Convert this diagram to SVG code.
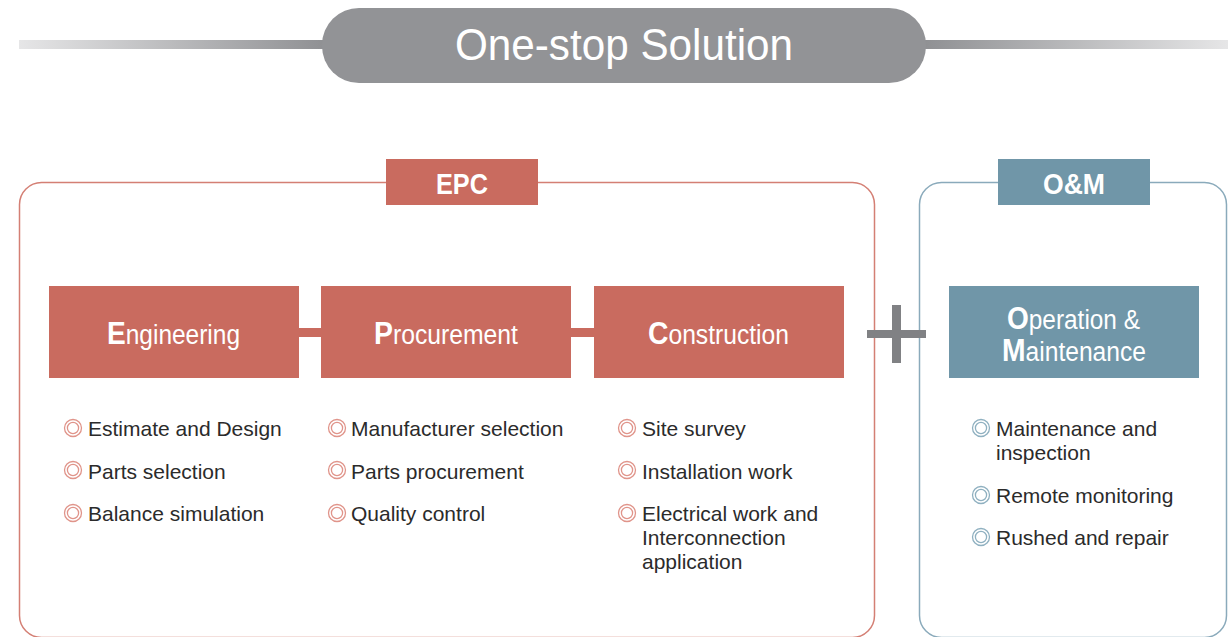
<svg xmlns="http://www.w3.org/2000/svg" width="1228" height="637" viewBox="0 0 1228 637">
<defs>
<linearGradient id="gl" x1="0" y1="0" x2="1" y2="0"><stop offset="0" stop-color="#e6e6e7"/><stop offset="1" stop-color="#8e8f92"/></linearGradient>
<linearGradient id="gr" x1="0" y1="0" x2="1" y2="0"><stop offset="0" stop-color="#8e8f92"/><stop offset="1" stop-color="#e6e6e7"/></linearGradient>
<g id="br"><circle r="8.5" fill="none" stroke="#e0948a" stroke-width="1.3"/><circle r="5.6" fill="none" stroke="#e0948a" stroke-width="1.3"/></g>
<g id="bb"><circle r="8.5" fill="none" stroke="#8fb0c0" stroke-width="1.3"/><circle r="5.6" fill="none" stroke="#8fb0c0" stroke-width="1.3"/></g>
</defs>
<style>
.hd{font-family:"Liberation Sans",Arial,sans-serif;fill:#fff;}
.bx{font-family:"Liberation Sans",Arial,sans-serif;fill:#fff;font-size:27px;}
.big{font-weight:bold;font-size:31px;}
.li{font-family:"Liberation Sans",Arial,sans-serif;fill:#2b2b2b;font-size:21px;}
.red{fill:#c96b5f;}
.blue{fill:#7096a8;}
</style>
<rect width="1228" height="637" fill="#fff"/>
<g id="title">
<rect x="19" y="40" width="310" height="9" fill="url(#gl)"/>
<rect x="920" y="40" width="308" height="9" fill="url(#gr)"/>
<rect x="322" y="8" width="604" height="75" rx="37" fill="#929396"/>
<text class="hd" x="624" y="60" font-size="44" text-anchor="middle" textLength="338" lengthAdjust="spacingAndGlyphs">One-stop Solution</text>
</g>
<g id="epc">
<rect x="19.5" y="182.5" width="855" height="455" rx="22" fill="none" stroke="#d47f74" stroke-width="1.5"/>
<rect class="red" x="386" y="159" width="152" height="46"/>
<text class="hd" x="462" y="194" font-size="29" font-weight="bold" text-anchor="middle" textLength="52" lengthAdjust="spacingAndGlyphs">EPC</text>
</g>
<g id="om">
<rect x="919.5" y="182.5" width="307" height="455" rx="22" fill="none" stroke="#8aaabb" stroke-width="1.5"/>
<rect class="blue" x="998" y="159" width="152" height="46"/>
<text class="hd" x="1074" y="194" font-size="29" font-weight="bold" text-anchor="middle" textLength="62" lengthAdjust="spacingAndGlyphs">O&amp;M</text>
</g>
<g id="connectors">
<rect class="red" x="298" y="328" width="24" height="9"/>
<rect class="red" x="570" y="328" width="25" height="9"/>
</g>
<g id="plus" fill="#808184">
<rect x="867" y="330" width="59" height="8"/>
<rect x="892" y="305" width="9" height="58"/>
</g>
<g id="engineering">
<rect class="red" x="49" y="286" width="250" height="92"/>
<text class="bx" x="107" y="344" textLength="133" lengthAdjust="spacingAndGlyphs"><tspan class="big">E</tspan>ngineering</text>
</g>
<g id="procurement">
<rect class="red" x="321" y="286" width="250" height="92"/>
<text class="bx" x="374" y="344" textLength="144" lengthAdjust="spacingAndGlyphs"><tspan class="big">P</tspan>rocurement</text>
</g>
<g id="construction">
<rect class="red" x="594" y="286" width="250" height="92"/>
<text class="bx" x="648" y="344" textLength="141" lengthAdjust="spacingAndGlyphs"><tspan class="big">C</tspan>onstruction</text>
</g>
<g id="operation">
<rect class="blue" x="949" y="286" width="250" height="92"/>
<text class="bx" x="1007" y="329" textLength="133" lengthAdjust="spacingAndGlyphs"><tspan class="big">O</tspan>peration &amp;</text>
<text class="bx" x="1002" y="361" textLength="144" lengthAdjust="spacingAndGlyphs"><tspan class="big">M</tspan>aintenance</text>
</g>
<g id="eng-list">
<use href="#br" x="73" y="428"/><text class="li" x="88" y="436">Estimate and Design</text>
<use href="#br" x="73" y="470"/><text class="li" x="88" y="479">Parts selection</text>
<use href="#br" x="73" y="513"/><text class="li" x="88" y="521">Balance simulation</text>
</g>
<g id="proc-list">
<use href="#br" x="337" y="428"/><text class="li" x="351" y="436">Manufacturer selection</text>
<use href="#br" x="337" y="470"/><text class="li" x="351" y="479">Parts procurement</text>
<use href="#br" x="337" y="513"/><text class="li" x="351" y="521">Quality control</text>
</g>
<g id="cons-list">
<use href="#br" x="627" y="428"/><text class="li" x="642" y="436">Site survey</text>
<use href="#br" x="627" y="470"/><text class="li" x="642" y="479">Installation work</text>
<use href="#br" x="627" y="513"/><text class="li" x="642" y="521">Electrical work and</text>
<text class="li" x="642" y="545">Interconnection</text>
<text class="li" x="642" y="569">application</text>
</g>
<g id="om-list">
<use href="#bb" x="981" y="428"/><text class="li" x="996" y="436">Maintenance and</text>
<text class="li" x="996" y="460">inspection</text>
<use href="#bb" x="981" y="495"/><text class="li" x="996" y="503">Remote monitoring</text>
<use href="#bb" x="981" y="537"/><text class="li" x="996" y="545">Rushed and repair</text>
</g>
</svg>
